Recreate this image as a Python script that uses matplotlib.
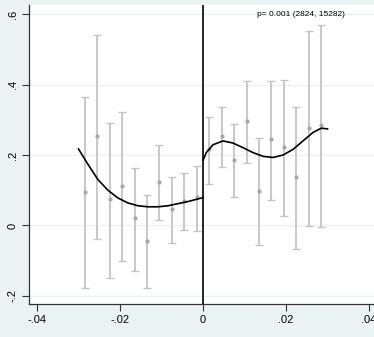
import matplotlib
matplotlib.use("Agg")
import matplotlib.pyplot as plt
import numpy as np

# bin centres
bins_left = [-0.0285, -0.0255, -0.0225, -0.0195, -0.0165, -0.0135, -0.0105, -0.0075, -0.0045, -0.0015]
bins_right = [0.0015, 0.0045, 0.0075, 0.0105, 0.0135, 0.0165, 0.0195, 0.0225, 0.0255, 0.0285]

# bin means and confidence intervals
mean_left = [0.096, 0.253, 0.075, 0.113, 0.020, -0.043, 0.124, 0.046, 0.069, 0.080]
lo_left = [-0.178, -0.038, -0.148, -0.100, -0.129, -0.176, 0.016, -0.050, -0.013, -0.016]
hi_left = [0.365, 0.540, 0.291, 0.321, 0.164, 0.086, 0.229, 0.138, 0.149, 0.168]

mean_right = [0.217, 0.253, 0.187, 0.297, 0.099, 0.245, 0.222, 0.137, 0.278, 0.284]
lo_right = [0.118, 0.166, 0.081, 0.177, -0.056, 0.073, 0.026, -0.066, -0.002, -0.005]
hi_right = [0.309, 0.336, 0.287, 0.410, 0.249, 0.410, 0.413, 0.335, 0.553, 0.568]

# fitted curves
fit_left_x = [-0.0300, -0.0277, -0.0253, -0.0229, -0.0205, -0.0181, -0.0157, -0.0133,
              -0.0108, -0.0084, -0.0060, -0.0036, 0.0]
fit_left_y = [0.217, 0.173, 0.130, 0.100, 0.078, 0.064, 0.056, 0.053,
              0.053, 0.056, 0.062, 0.068, 0.079]
fit_right_x = [0.0, 0.0008, 0.0024, 0.0048, 0.0072, 0.0096, 0.0120, 0.0145,
               0.0169, 0.0193, 0.0217, 0.0241, 0.0265, 0.0285, 0.0300]
fit_right_y = [0.185, 0.207, 0.229, 0.240, 0.234, 0.221, 0.207, 0.196,
               0.193, 0.200, 0.216, 0.240, 0.264, 0.276, 0.274]

xticks = [-0.04, -0.02, 0, 0.02, 0.04]
xticklabels = ["-.04", "-.02", "0", ".02", ".04"]
yticks = [-0.2, 0, 0.2, 0.4, 0.6]
yticklabels = ["-.2", "0", ".2", ".4", ".6"]
annotation = "p= 0.001 (2824, 15282)"

plt.rcParams['font.family'] = ['Liberation Sans', 'DejaVu Sans']

bg = "#EAF2F3"
fig = plt.figure(figsize=(3.74, 3.37), dpi=100, facecolor=bg)
ax = fig.add_axes([29/374, 1-304/337, 1-29/374, (304-5)/337])
ax.set_facecolor("white")

for yt in yticks:
    ax.axhline(yt, color="#EAF2F3", lw=1.0, zorder=0)

ecol = "#C4C4C4"
for bx, m, lo, hi in zip(bins_left + bins_right, mean_left + mean_right,
                         lo_left + lo_right, hi_left + hi_right):
    ax.errorbar([bx], [m], yerr=[[m - lo], [hi - m]], fmt="none", ecolor=ecol,
                elinewidth=1.3, capsize=2.8, capthick=1.0, zorder=2)
ax.scatter(bins_left + bins_right, mean_left + mean_right, s=9, color="#A6A6A6",
           zorder=3, linewidths=0)

ax.plot(fit_left_x, fit_left_y, color="black", lw=1.2, zorder=4)
ax.plot(fit_right_x, fit_right_y, color="black", lw=1.2, zorder=4)
ax.axvline(0, color="black", lw=1.2, zorder=4)

ax.set_xlim(-0.04193, 0.0412)
ax.set_ylim(-0.2228, 0.6256)
ax.set_xticks(xticks)
ax.set_xticklabels(xticklabels)
ax.set_yticks(yticks)
ax.set_yticklabels(yticklabels, rotation=90, va="center")
ax.tick_params(axis="both", labelsize=8, length=5, width=0.8, color="#333333", pad=3)
for s in ["top", "right"]:
    ax.spines[s].set_visible(False)
for s in ["left", "bottom"]:
    ax.spines[s].set_color("#333333")
    ax.spines[s].set_linewidth(0.9)

ax.text(0.0235, 0.6, annotation, fontsize=6, ha="center", va="center")

fig.savefig("out.png", dpi=100, facecolor=bg)
